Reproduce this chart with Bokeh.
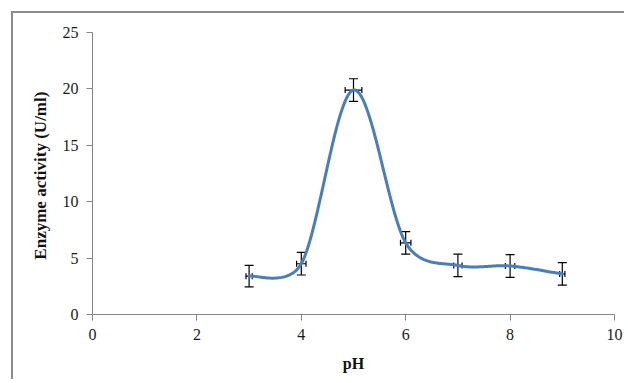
import numpy as np
from bokeh.plotting import figure
from bokeh.models import Range1d, FixedTicker, Whisker, TeeHead, ColumnDataSource
from bokeh.embed import file_html
from bokeh.resources import INLINE

# ---- data ----
ph = [3, 4, 5, 6, 7, 8, 9]
activity = [3.4, 4.5, 19.9, 6.35, 4.35, 4.3, 3.6]
activity_err = [0.95, 1.0, 1.0, 1.0, 1.0, 1.0, 1.0]
ph_err = [0.06, 0.09, 0.16, 0.10, 0.08, 0.09, 0.05]
x_ticks = [0, 2, 4, 6, 8, 10]
y_ticks = [0, 5, 10, 15, 20, 25]

OFF = 13  # figure offset (border)
W, H = 628 - OFF - 2, 383 - OFF - 2
ML, MT = 92 - OFF, 32 - OFF
FW, FH = 522, 282
MR, MB = W - ML - FW, H - MT - FH
XMAX, YMAX = 10, 25
sx, sy = FW / XMAX, FH / YMAX

# Excel-style smoothed curve (Bezier through points, computed in screen space)
P = np.column_stack([np.array(ph) * sx, np.array(activity) * sy])
n = len(P)
xs, ys = [], []
t = np.linspace(0, 1, 40)
for i in range(n - 1):
    p0 = P[i - 1] if i > 0 else P[i]
    p1, p2 = P[i], P[i + 1]
    p3 = P[i + 2] if i + 2 < n else P[i + 1]
    d02 = np.linalg.norm(p2 - p0); d12 = np.linalg.norm(p2 - p1); d13 = np.linalg.norm(p3 - p1)
    if d02 / 6 < d12 / 2 and d13 / 6 < d12 / 2:
        f0 = 1 / 6 if i > 0 else 1 / 3
        f3 = 1 / 6 if i + 2 < n else 1 / 3
        b1 = p1 + (p2 - p0) * f0
        b2 = p2 - (p3 - p1) * f3
    elif d02 / 6 >= d12 / 2 and d13 / 6 >= d12 / 2:
        b1 = p1 + (p2 - p0) * d12 / 2 / d02
        b2 = p2 - (p3 - p1) * d12 / 2 / d13
    elif d02 / 6 >= d12 / 2:
        b1 = p1 + (p2 - p0) * d12 / 2 / d02
        b2 = p2 - (p3 - p1) * d12 / 2 / d13 * (d13 / d02)
    else:
        b1 = p1 + (p2 - p0) * d12 / 2 / d02 * (d02 / d13)
        b2 = p2 - (p3 - p1) * d12 / 2 / d13
    tt = t if i == 0 else t[1:]
    c = ((1 - tt) ** 3)[:, None] * p1 + (3 * (1 - tt) ** 2 * tt)[:, None] * b1 \
        + (3 * (1 - tt) * tt ** 2)[:, None] * b2 + (tt ** 3)[:, None] * p2
    xs.extend(c[:, 0] / sx); ys.extend(c[:, 1] / sy)

p = figure(width=W, height=H, output_backend="svg", toolbar_location=None,
           x_range=Range1d(0, XMAX), y_range=Range1d(0, YMAX),
           min_border_left=ML, min_border_right=MR, min_border_top=MT, min_border_bottom=MB)
p.outline_line_color = None
p.grid.visible = False
p.styles = {"margin-left": "11px", "margin-top": "11px",
            "border-left": "2px solid #8c8c8c", "border-top": "2px solid #8c8c8c"}

p.line(xs, ys, line_color="#4a7ebb", line_width=3, line_join="round", line_cap="round")

src = ColumnDataSource(dict(
    x=ph, y=activity,
    ylo=[a - e for a, e in zip(activity, activity_err)],
    yhi=[a + e for a, e in zip(activity, activity_err)],
    xlo=[a - e for a, e in zip(ph, ph_err)],
    xhi=[a + e for a, e in zip(ph, ph_err)],
))
p.add_layout(Whisker(source=src, base="x", lower="ylo", upper="yhi", dimension="height",
                     line_color="black", line_width=1.2,
                     upper_head=TeeHead(size=9, line_color="black", line_width=1.2),
                     lower_head=TeeHead(size=9, line_color="black", line_width=1.2)))
p.add_layout(Whisker(source=src, base="y", lower="xlo", upper="xhi", dimension="width",
                     line_color="black", line_width=1.2,
                     upper_head=TeeHead(size=6, line_color="black", line_width=1.2),
                     lower_head=TeeHead(size=6, line_color="black", line_width=1.2)))

for ax in (p.xaxis[0], p.yaxis[0]):
    ax.axis_line_color = "#868686"
    ax.major_tick_line_color = "#868686"
    ax.minor_tick_line_color = None
    ax.major_tick_out = 6
    ax.major_tick_in = 0
    ax.major_label_text_font = "Liberation Serif"
    ax.major_label_text_font_size = "16px"
    ax.major_label_text_color = "#1a1a1a"
    ax.axis_label_text_font = "Liberation Serif"
    ax.axis_label_text_font_style = "bold"
    ax.axis_label_text_color = "#111111"

p.xaxis.ticker = FixedTicker(ticks=x_ticks)
p.yaxis.ticker = FixedTicker(ticks=y_ticks)
p.xaxis.axis_label = "pH"
p.yaxis.axis_label = "Enzyme  activity (U/ml)"
p.xaxis.axis_label_text_font_size = "16px"
p.yaxis.axis_label_text_font_size = "17px"
p.xaxis.major_label_standoff = 8
p.yaxis.major_label_standoff = 8
p.xaxis.axis_label_standoff = 12
p.yaxis.axis_label_standoff = 10

open("out.html", "w").write(file_html(p, INLINE))
